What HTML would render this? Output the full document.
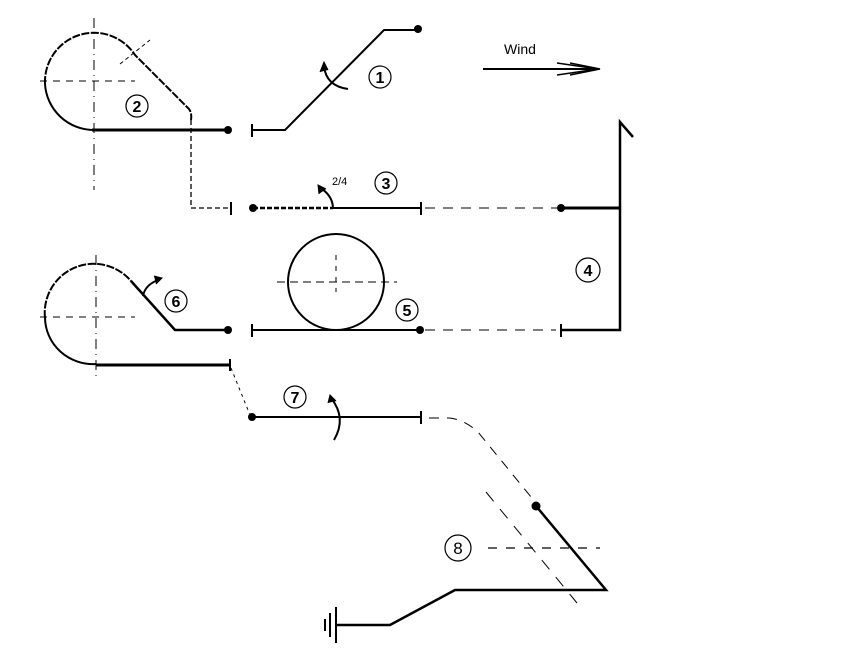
<!DOCTYPE html>
<html><head><meta charset="utf-8"><style>
html,body{margin:0;padding:0;background:#fff;}
svg{display:block;}
text{font-family:"Liberation Sans",Arial,sans-serif;fill:#000;stroke:none;}
.b{font-weight:bold;}
.n{font-weight:normal;}
</style></head><body>
<svg width="855" height="654" viewBox="0 0 855 654" xmlns="http://www.w3.org/2000/svg" fill="none" stroke="#000">
<!-- Loop 2 -->
<line x1="40" y1="81" x2="135" y2="81" stroke-width="1" stroke-dasharray="7,6"/>
<line x1="94" y1="18" x2="94" y2="190" stroke-width="1" stroke-dasharray="10,5,1,5"/>
<line x1="120" y1="64" x2="150" y2="40" stroke-width="1" stroke-dasharray="4,3"/>
<path d="M45,84 A49,49 0 0 1 135,55 L189,109 Q192,113 191,120" stroke-width="2" stroke-dasharray="8,1.5"/>
<path d="M45,84 A49,49 0 0 0 94,130" stroke-width="2"/>
<line x1="92" y1="130" x2="228" y2="130" stroke-width="3"/>
<circle cx="228" cy="130" r="4" fill="#000" stroke="none"/>
<path d="M191,120 L191,208 L230,208" stroke-width="1.3" stroke-dasharray="5,3"/>
<line x1="231" y1="202" x2="231" y2="215" stroke-width="2"/>
<circle cx="137" cy="106" r="11" stroke-width="1.2"/><text class="b" x="137" y="112" font-size="16" text-anchor="middle">2</text>
<!-- Element 1 -->
<line x1="252" y1="124" x2="252" y2="137" stroke-width="2"/>
<polyline points="252,130 285,130 384,30 418,30" stroke-width="2"/>
<circle cx="418" cy="29" r="4" fill="#000" stroke="none"/>
<path d="M348,89 Q326,86 324,66" stroke-width="2"/>
<path d="M320,72 L324,62 L328,70" fill="#000" stroke-width="1"/>
<circle cx="380" cy="77" r="11" stroke-width="1.2"/><text class="b" x="380" y="83" font-size="16" text-anchor="middle">1</text>
<!-- Wind -->
<text class="n" x="504" y="54" font-size="14">Wind</text>
<line x1="483" y1="69" x2="598" y2="69" stroke-width="2"/>
<polyline points="557,63 598,69 557,75" stroke-width="1.5"/>
<polyline points="570,63 600,69 570,75" stroke-width="1.5"/>
<!-- Row 3 -->
<circle cx="253" cy="208" r="4" fill="#000" stroke="none"/>
<line x1="253" y1="208" x2="333" y2="208" stroke-width="2.5" stroke-dasharray="5,2"/>
<line x1="333" y1="208" x2="420" y2="208" stroke-width="2"/>
<line x1="421" y1="202" x2="421" y2="215" stroke-width="2"/>
<path d="M333,207 Q332,196 322,189" stroke-width="2"/>
<path d="M319,194 L318,185 L326,189" fill="#000" stroke-width="1"/>
<text class="n" x="332" y="185" font-size="11">2/4</text>
<circle cx="386" cy="183" r="11" stroke-width="1.2"/><text class="b" x="386" y="189" font-size="16" text-anchor="middle">3</text>
<line x1="425" y1="208" x2="558" y2="208" stroke-width="1" stroke-dasharray="10,8"/>
<circle cx="561" cy="208" r="4" fill="#000" stroke="none"/>
<line x1="561" y1="208" x2="620" y2="208" stroke-width="3"/>
<!-- 4 -->
<polyline points="633,137 620,122 620,330 562,330" stroke-width="2.5"/>
<line x1="561" y1="324" x2="561" y2="337" stroke-width="2"/>
<circle cx="588" cy="270" r="12" stroke-width="1.2"/><text class="b" x="588" y="276" font-size="16" text-anchor="middle">4</text>
<!-- 5 -->
<circle cx="336" cy="282" r="48" stroke-width="2"/>
<line x1="277" y1="282" x2="397" y2="282" stroke-width="1" stroke-dasharray="8,5"/>
<line x1="336" y1="255" x2="336" y2="292" stroke-width="1" stroke-dasharray="5,6"/>
<line x1="252" y1="324" x2="252" y2="337" stroke-width="2"/>
<line x1="252" y1="330" x2="420" y2="330" stroke-width="2"/>
<circle cx="420" cy="330" r="4" fill="#000" stroke="none"/>
<line x1="425" y1="330" x2="556" y2="330" stroke-width="1" stroke-dasharray="10,8"/>
<circle cx="407" cy="310" r="11" stroke-width="1.2"/><text class="b" x="407" y="316" font-size="16" text-anchor="middle">5</text>
<!-- Loop 6 -->
<line x1="40" y1="317" x2="135" y2="317" stroke-width="1" stroke-dasharray="7,6"/>
<line x1="96" y1="255" x2="96" y2="376" stroke-width="1" stroke-dasharray="10,5,1,5"/>
<path d="M45,318 A49,49 0 0 1 131,281" stroke-width="2" stroke-dasharray="8,1.5"/>
<path d="M45,318 A48,47 0 0 0 96,364" stroke-width="2"/>
<polyline points="131,281 175,330 228,330" stroke-width="2.5"/>
<circle cx="228" cy="330" r="4" fill="#000" stroke="none"/>
<path d="M143,296 Q145,285 158,280" stroke-width="2"/>
<path d="M154,276 L162,278 L156,284" fill="#000" stroke-width="1"/>
<circle cx="176" cy="301" r="11" stroke-width="1.2"/><text class="b" x="176" y="307" font-size="16" text-anchor="middle">6</text>
<line x1="96" y1="365" x2="230" y2="365" stroke-width="3"/>
<line x1="230" y1="359" x2="230" y2="371" stroke-width="2"/>
<line x1="231" y1="368" x2="250" y2="415" stroke-width="1" stroke-dasharray="3,4"/>
<!-- 7 -->
<circle cx="252" cy="417" r="4" fill="#000" stroke="none"/>
<line x1="252" y1="417" x2="420" y2="417" stroke-width="2"/>
<line x1="421" y1="411" x2="421" y2="424" stroke-width="2"/>
<path d="M331,398 Q347,418 334,440" stroke-width="2"/>
<path d="M328,403 L330,395 L336,401" fill="#000" stroke-width="1"/>
<circle cx="295" cy="397" r="11" stroke-width="1.2"/><text class="b" x="295" y="403" font-size="16" text-anchor="middle">7</text>
<!-- 8 -->
<path d="M429,418 L450,418 Q465,420 478,432 L540,508" stroke-width="1" stroke-dasharray="10,8"/>
<line x1="486" y1="492" x2="577" y2="603" stroke-width="1" stroke-dasharray="12,10"/>
<line x1="488" y1="548" x2="600" y2="548" stroke-width="1.3" stroke-dasharray="9,9"/>
<circle cx="536" cy="506" r="4.5" fill="#000" stroke="none"/>
<polyline points="536,506 606,590 455,590 390,625 336,625" stroke-width="2.5"/>
<circle cx="458" cy="548" r="13" stroke-width="1.2"/><text class="n" x="458" y="554" font-size="17" text-anchor="middle">8</text>
<line x1="336" y1="607" x2="336" y2="643" stroke-width="2"/>
<line x1="330" y1="613" x2="330" y2="637" stroke-width="2"/>
<line x1="325" y1="619" x2="325" y2="631" stroke-width="2"/>
</svg>
</body></html>
